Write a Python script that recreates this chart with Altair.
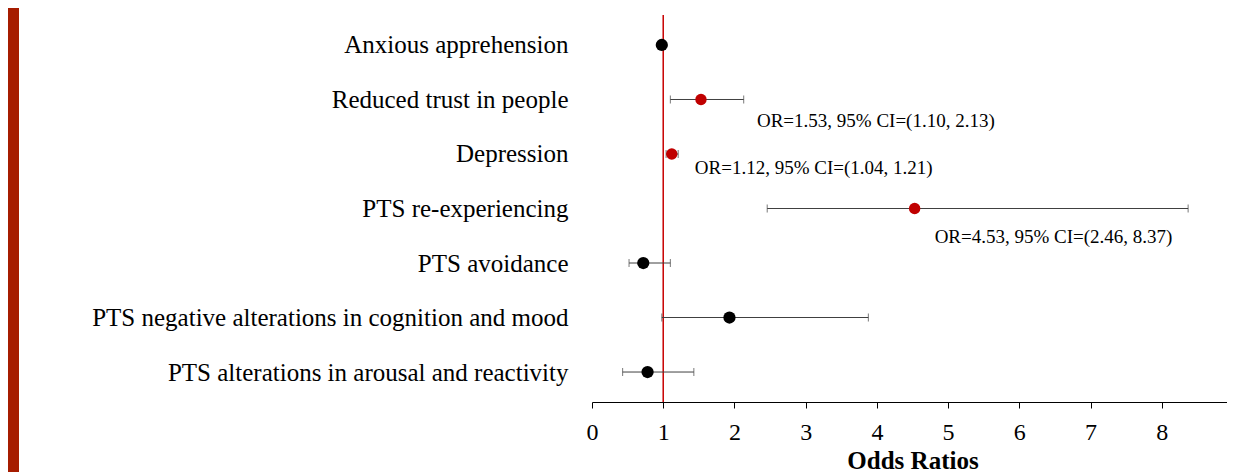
import altair as alt
import pandas as pd

# ---- data ----
labels = [
    "Anxious apprehension",
    "Reduced trust in people",
    "Depression",
    "PTS re-experiencing",
    "PTS avoidance\u00a0",
    "PTS negative alterations in cognition and mood",
    "PTS alterations in arousal and reactivity",
]
odds = [0.98, 1.53, 1.12, 4.53, 0.72, 1.93, 0.78]
ci_low = [0.95, 1.10, 1.04, 2.46, 0.52, 0.98, 0.43]
ci_high = [1.02, 2.13, 1.21, 8.37, 1.10, 3.88, 1.43]
significance = ["ns", "sig", "sig", "sig", "ns", "ns", "ns"]
x_ticks = [0, 1, 2, 3, 4, 5, 6, 7, 8, 9]
reference_or = [1]

df = pd.DataFrame({
    "label": labels,
    "odds": odds,
    "lo": ci_low,
    "hi": ci_high,
    "sig": significance,
})
df["note"] = [
    f"OR={o:.2f}, 95% CI=({l:.2f}, {h:.2f})" for o, l, h in zip(odds, ci_low, ci_high)
]
ref_df = pd.DataFrame({"ref": reference_or})

SERIF = "Liberation Serif"

x_scale = alt.Scale(domain=[0, 9], nice=False, zero=False)
y_scale = alt.Scale(type="point", domain=labels, padding=0.55)

x_enc = alt.X(
    "odds:Q",
    scale=x_scale,
    axis=alt.Axis(
        values=x_ticks,
        title="Odds Ratios",
        titleFont=SERIF,
        titleFontSize=25,
        titleFontWeight="bold",
        titleColor="#000000",
        titlePadding=4,
        labelFont=SERIF,
        labelFontSize=24,
        labelColor="#000000",
        labelPadding=12,
        labelFlush=False,
        labelOverlap=False,
        tickSize=6,
        tickColor="#000000",
        domainColor="#000000",
        grid=False,
        format="d",
    ),
)
y_enc = alt.Y(
    "label:N",
    scale=y_scale,
    sort=labels,
    axis=alt.Axis(
        title=None,
        domain=False,
        ticks=False,
        labelFont=SERIF,
        labelFontSize=25,
        labelColor="#000000",
        labelPadding=24,
        labelLimit=0,
        grid=False,
    ),
)

base = alt.Chart(df)

side_bar = alt.Chart(pd.DataFrame({"a": [0]})).mark_rect(color="#A61C00").encode(
    x=alt.value(-584), x2=alt.value(-573), y=alt.value(-7), y2=alt.value(470)
)

ref_line = alt.Chart(ref_df).mark_rule(color="#C80000", strokeWidth=1.5).encode(
    x=alt.X("ref:Q", scale=x_scale)
)

whiskers = base.mark_rule(color="#404040", strokeWidth=1).encode(
    x=alt.X("lo:Q", scale=x_scale), x2="hi:Q", y=y_enc
)
cap_lo = base.mark_tick(color="#404040", thickness=1, size=8, orient="vertical").encode(
    x=alt.X("lo:Q", scale=x_scale), y=y_enc
)
cap_hi = base.mark_tick(color="#404040", thickness=1, size=8, orient="vertical").encode(
    x=alt.X("hi:Q", scale=x_scale), y=y_enc
)

points = base.mark_point(filled=True, opacity=1).encode(
    x=x_enc,
    y=y_enc,
    color=alt.Color(
        "sig:N",
        scale=alt.Scale(domain=["sig", "ns"], range=["#C00000", "#000000"]),
        legend=None,
    ),
    size=alt.Size("sig:N", scale=alt.Scale(domain=["sig", "ns"], range=[130, 150]), legend=None),
)

note_style = {
    "Reduced trust in people": (56, 22),
    "Depression": (23, 14),
    "PTS re-experiencing": (20, 28),
}
notes = []
for lab, (dx, dy) in note_style.items():
    notes.append(
        base.transform_filter(alt.datum.label == lab)
        .mark_text(
            align="left", baseline="middle", dx=dx, dy=dy,
            font=SERIF, fontSize=19, color="#000000",
        )
        .encode(x=alt.X("odds:Q", scale=x_scale), y=y_enc, text="note:N")
    )

chart = (
    alt.layer(side_bar, ref_line, whiskers, cap_lo, cap_hi, points, *notes)
    .properties(
        width=641,
        height=387,
        autosize=alt.AutoSizeParams(type="none"),
        # negative right padding: the page edge cuts the axis just past 9
        padding={"left": 584, "top": 7, "right": -6, "bottom": 70},
        background="#ffffff",
    )
    .configure_view(stroke=None)
)

chart.save("out.html", embed_options={"renderer": "svg", "actions": False})
